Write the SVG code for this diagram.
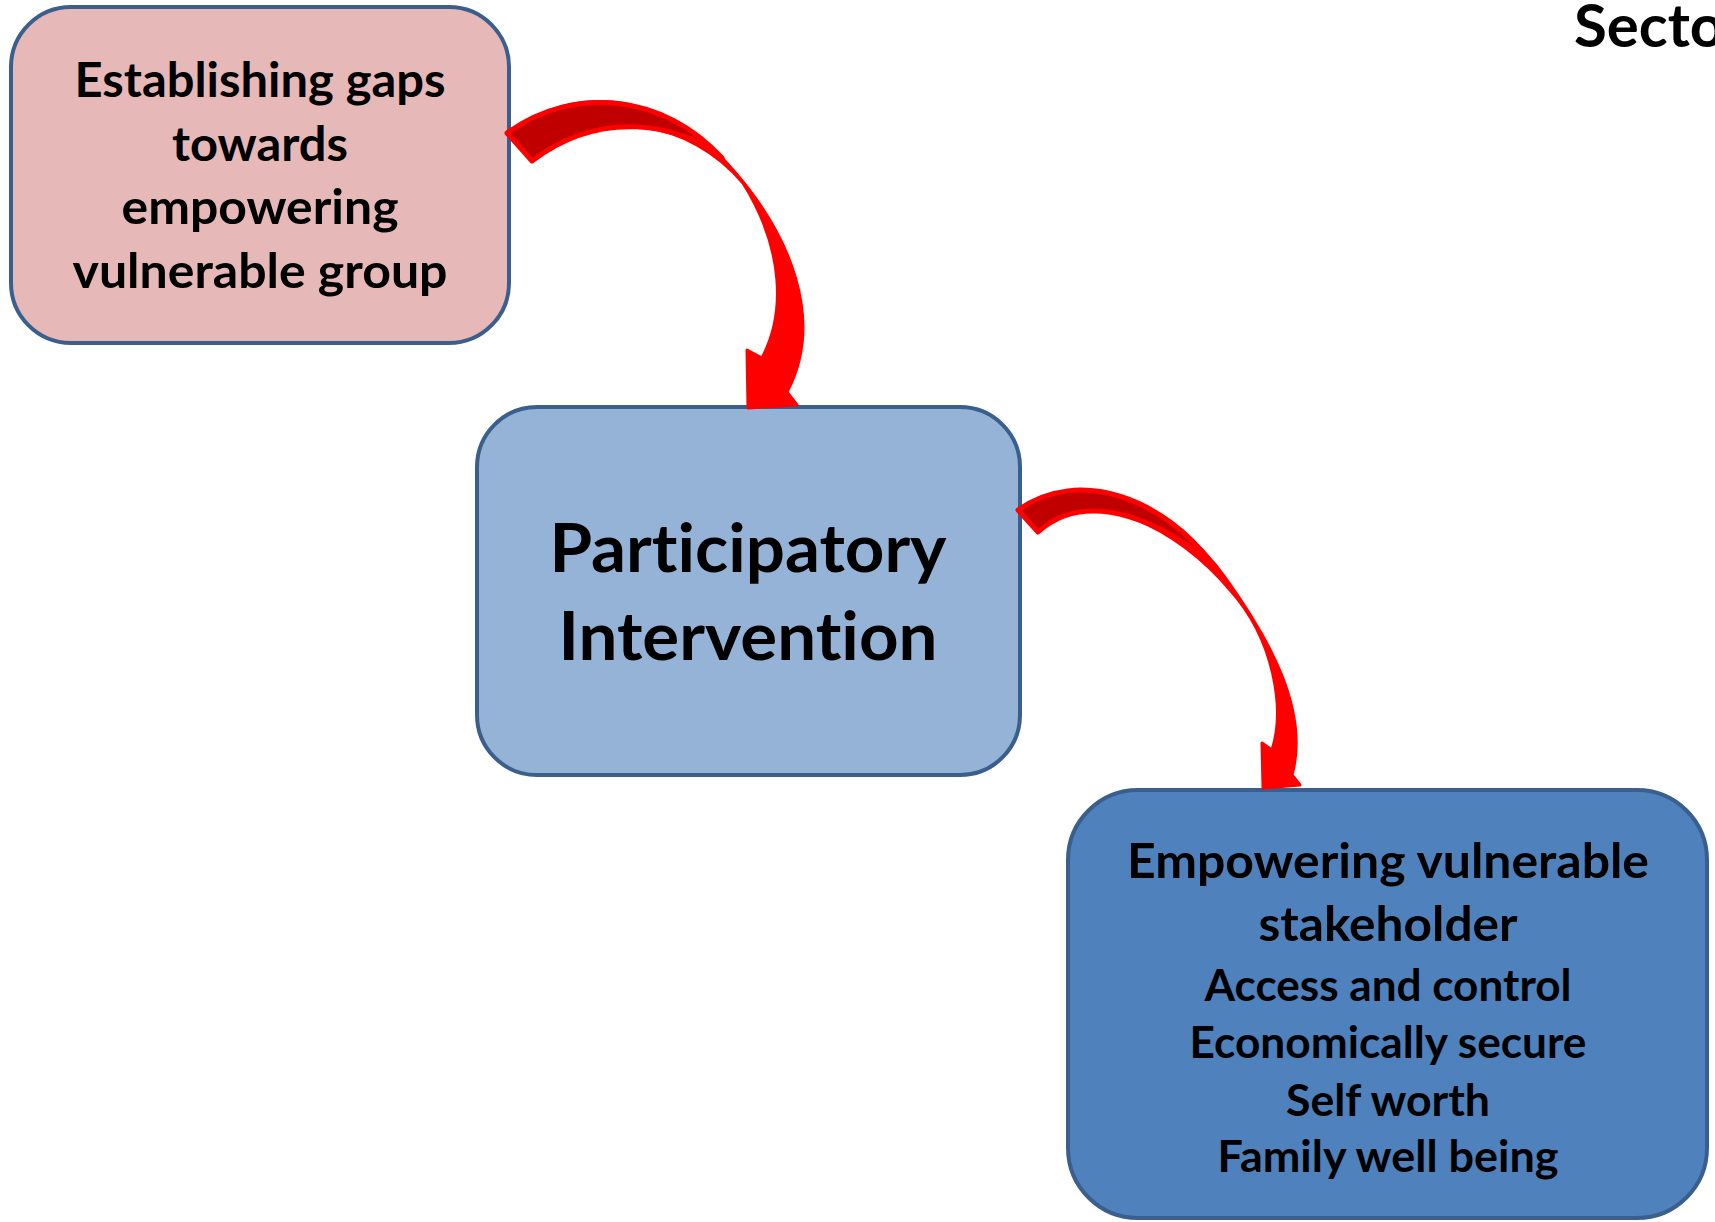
<svg xmlns="http://www.w3.org/2000/svg" width="1715" height="1222" viewBox="0 0 1715 1222">
<style>
.box{stroke:#3a5f8d;stroke-width:4}
.t{font-family:Lato,"Open Sans","Liberation Sans",sans-serif;font-weight:700;fill:#000;text-anchor:middle;font-variant-ligatures:none}
.arr{fill:#ff0000;stroke:#ff0000;stroke-width:3;stroke-linejoin:round}
.back{fill:#c00000;stroke:#ff0000;stroke-width:5;stroke-linejoin:round}
</style>
<rect width="1715" height="1222" fill="#ffffff"/>
<g id="node-gaps">
<rect class="box" x="11" y="7" width="498" height="336" rx="60" fill="#e6b8b7"/>
<text class="t" font-size="47" x="260" y="97" textLength="371" lengthAdjust="spacingAndGlyphs">Establishing gaps</text>
<text class="t" font-size="47" x="260" y="161" textLength="176" lengthAdjust="spacingAndGlyphs">towards</text>
<text class="t" font-size="47" x="260" y="224" textLength="277" lengthAdjust="spacingAndGlyphs">empowering</text>
<text class="t" font-size="47" x="260" y="288" textLength="375" lengthAdjust="spacingAndGlyphs">vulnerable group</text>
</g>
<g id="node-participatory">
<rect class="box" x="477" y="407" width="543" height="368" rx="60" fill="#95b3d7"/>
<text class="t" font-size="66" x="748" y="572" textLength="397" lengthAdjust="spacingAndGlyphs">Participatory</text>
<text class="t" font-size="66" x="748" y="660" textLength="379" lengthAdjust="spacingAndGlyphs">Intervention</text>
</g>
<g id="node-empowering">
<rect class="box" x="1068" y="790" width="639" height="428" rx="70" fill="#4f81bd"/>
<text class="t" font-size="47" x="1388" y="878" textLength="522" lengthAdjust="spacingAndGlyphs">Empowering vulnerable</text>
<text class="t" font-size="47" x="1388" y="941" textLength="259" lengthAdjust="spacingAndGlyphs">stakeholder</text>
<text class="t" font-size="44" x="1388" y="1001" textLength="367" lengthAdjust="spacingAndGlyphs">Access and control</text>
<text class="t" font-size="44" x="1388" y="1058" textLength="397" lengthAdjust="spacingAndGlyphs">Economically secure</text>
<text class="t" font-size="44" x="1388" y="1116" textLength="204" lengthAdjust="spacingAndGlyphs">Self worth</text>
<text class="t" font-size="44" x="1388" y="1172" textLength="341" lengthAdjust="spacingAndGlyphs">Family well being</text>
</g>
<g id="title">
<text font-family="Lato,'Open Sans','Liberation Sans',sans-serif" font-weight="700" font-size="60" x="1574" y="47" fill="#000">Secto</text>
</g>
<g id="connectors">
<path class="arr" d="M507,133 C580,80 670,95 733,170 C790,235 825,320 787,392 L797,405 L748,408 L747,350 L762,358 C785,315 785,250 743,183 C690,120 600,105 532,161 Z"/>
<path class="back" d="M507,133 C575,84 665,95 722,158 C680,123 600,109 532,161 Z"/>
<path class="arr" d="M1018,510 C1080,465 1170,500 1227,580 C1267,636 1310,710 1292,775 L1300,785 L1263,788 L1262,743 L1272,750 C1285,710 1275,640 1230,590 C1180,530 1090,480 1038,532 Z"/>
<path class="back" d="M1018,510 C1080,466 1165,500 1212,564 C1170,527 1090,485 1038,532 Z"/>
</g>
</svg>
